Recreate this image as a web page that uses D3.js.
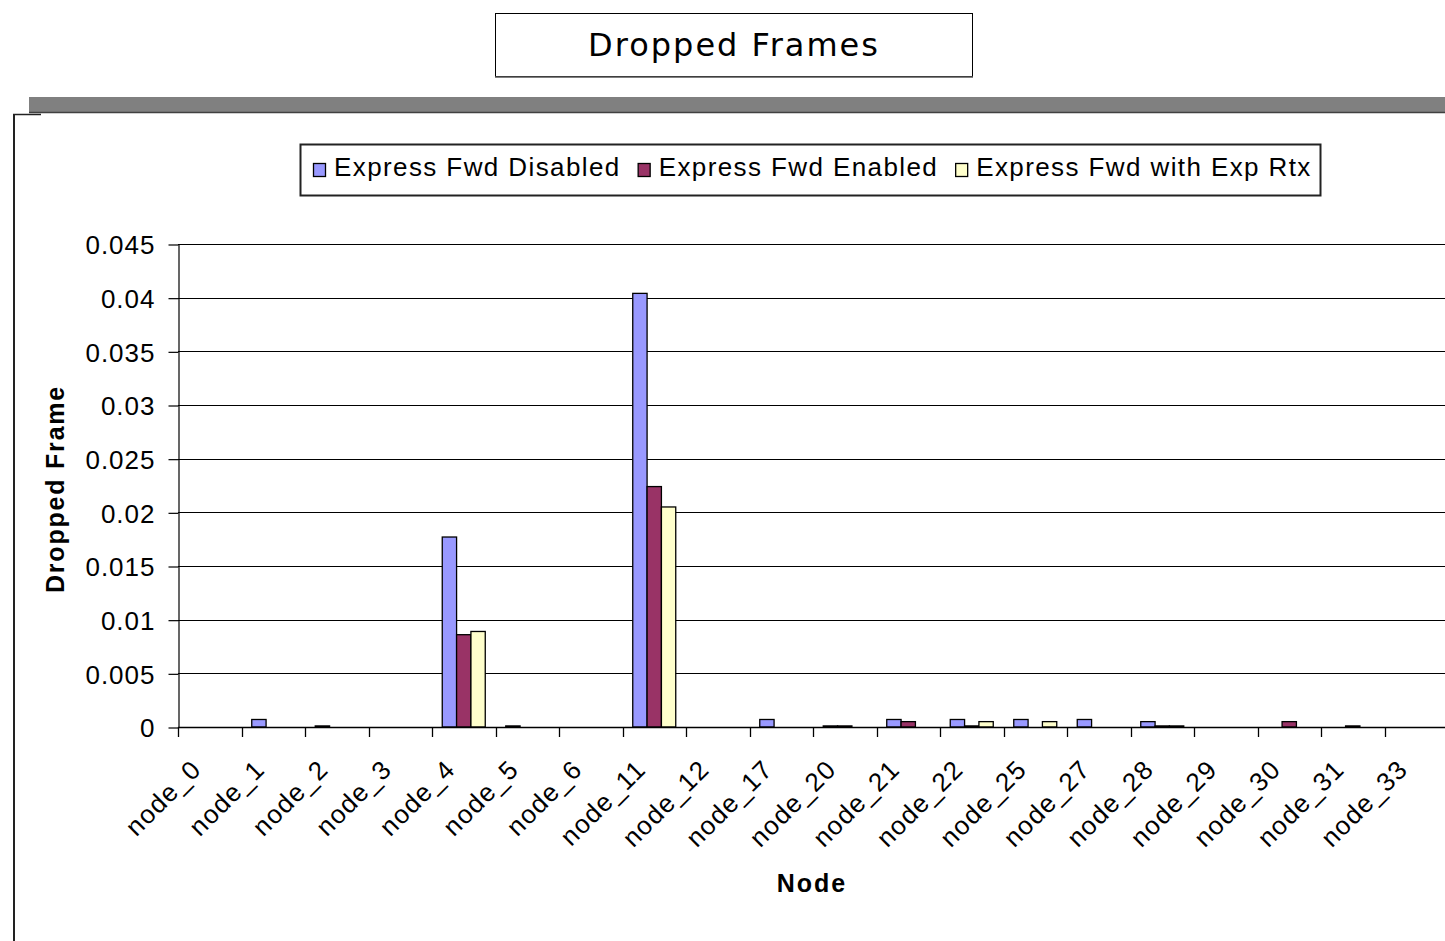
<!DOCTYPE html>
<html>
<head>
<meta charset="utf-8">
<script src="https://cdn.jsdelivr.net/npm/d3@7/dist/d3.min.js"></script>
<style>
  html, body { margin: 0; padding: 0; background: #ffffff; }
  svg { display: block; }
</style>
</head>
<body>
<svg id="chart" width="1445" height="941"></svg>
<script>
// ---- data ----
const categories = ["node_0","node_1","node_2","node_3","node_4","node_5","node_6","node_11","node_12","node_17","node_20","node_21","node_22","node_25","node_27","node_28","node_29","node_30","node_31","node_33"];
const seriesNames = ["Express Fwd Disabled","Express Fwd Enabled","Express Fwd with Exp Rtx"];
const fwdDisabled = [0, 0.0007, 0.0001, 0, 0.0177, 0.0001, 0, 0.0404, 0, 0.0007, 0.0001, 0.0007, 0.0007, 0.0007, 0.0007, 0.0005, 0, 0, 0, 0];
const fwdEnabled  = [0, 0, 0, 0, 0.0086, 0, 0, 0.0224, 0, 0, 0.0001, 0.0005, 0.0001, 0, 0, 0.0001, 0, 0.0005, 0.0001, 0];
const fwdExpRtx   = [0, 0, 0, 0, 0.0089, 0, 0, 0.0205, 0, 0, 0, 0, 0.0005, 0.0005, 0, 0.0001, 0, 0, 0, 0];
const yTicks = [0, 0.005, 0.01, 0.015, 0.02, 0.025, 0.03, 0.035, 0.04, 0.045];
const yTickLabels = ["0","0.005","0.01","0.015","0.02","0.025","0.03","0.035","0.04","0.045"];
const colors = ["#9999FF", "#993366", "#FFFFCC"];
const titleText = "Dropped Frames";
const yTitle = "Dropped Frame";
const xTitle = "Node";

const seriesValues = [fwdDisabled, fwdEnabled, fwdExpRtx];

const svg = d3.select("#chart");
const FONT = "'Liberation Sans', Arial, sans-serif";

// ---- frame decorations ----
svg.append("rect").attr("x", 29).attr("y", 97).attr("width", 1416).attr("height", 15).attr("fill", "#808080");
svg.append("line").attr("x1", 29).attr("x2", 1445).attr("y1", 112.5).attr("y2", 112.5).attr("stroke", "#404040").attr("stroke-width", 1.5);
svg.append("line").attr("x1", 14).attr("x2", 14).attr("y1", 114).attr("y2", 941).attr("stroke", "#222").attr("stroke-width", 2);
svg.append("line").attr("x1", 13).attr("x2", 41).attr("y1", 114.5).attr("y2", 114.5).attr("stroke", "#222").attr("stroke-width", 1.5);

// ---- title box ----
svg.append("rect").attr("x", 495.5).attr("y", 13.5).attr("width", 477).attr("height", 63)
  .attr("fill", "#fff").attr("stroke", "#000").attr("stroke-width", 1);
svg.append("line").attr("x1", 495).attr("x2", 973).attr("y1", 77).attr("y2", 77).attr("stroke", "#555").attr("stroke-width", 1.5);
svg.append("text").attr("x", 734).attr("y", 56).attr("text-anchor", "middle")
  .attr("font-family", "'DejaVu Sans', Verdana, sans-serif").attr("font-size", 32)
  .attr("letter-spacing", 2).attr("fill", "#000").text(titleText);

// ---- scales ----
const x = d3.scaleBand().domain(categories).range([178, 1448]).paddingInner(0).paddingOuter(0);
const xs = d3.scaleBand().domain(seriesNames).range([10.25, x.bandwidth() - 10.25]).paddingInner(0);
const y = d3.scaleLinear().domain([0, 0.045]).range([727, 244]);

// ---- gridlines ----
svg.append("g").selectAll("line").data(yTicks.filter(d => d > 0)).join("line")
  .attr("x1", 178).attr("x2", 1448)
  .attr("y1", d => Math.round(y(d)) + 0.5).attr("y2", d => Math.round(y(d)) + 0.5)
  .attr("stroke", "#000").attr("stroke-width", 1.2);

// ---- y axis ----
const yAxis = d3.axisLeft(y).tickValues(yTicks).tickFormat((d, i) => yTickLabels[i])
  .tickSize(10).tickSizeOuter(0).tickPadding(13);
const gy = svg.append("g").attr("transform", "translate(178.5,0.5)").call(yAxis);
gy.selectAll("text").attr("font-family", FONT).attr("font-size", 26).attr("letter-spacing", 1).attr("fill", "#000").attr("dy", "0.36em");
gy.selectAll("line").attr("stroke", "#000").attr("stroke-width", 1.2);
gy.select(".domain").attr("stroke", "#000").attr("stroke-width", 1.2);

// ---- bars ----
const barData = [];
categories.forEach((c, i) => {
  seriesNames.forEach((s, k) => {
    barData.push({ c, s, k, v: seriesValues[k][i] });
  });
});
svg.append("g").selectAll("rect").data(barData.filter(d => d.v > 0)).join("rect")
  .attr("x", d => x(d.c) + xs(d.s))
  .attr("y", d => y(d.v))
  .attr("width", xs.bandwidth())
  .attr("height", d => y(0) - y(d.v))
  .attr("fill", d => colors[d.k])
  .attr("stroke", "#000").attr("stroke-width", 1.3);

// ---- x axis ----
svg.append("line").attr("x1", 178).attr("x2", 1448).attr("y1", 727.5).attr("y2", 727.5).attr("stroke", "#000").attr("stroke-width", 1.3);
const bounds = categories.map(c => x(c)).concat([x.range()[1]]);
svg.append("g").selectAll("line").data(bounds).join("line")
  .attr("x1", d => Math.round(d) + 0.5).attr("x2", d => Math.round(d) + 0.5)
  .attr("y1", 727).attr("y2", 737)
  .attr("stroke", "#000").attr("stroke-width", 1.3);

svg.append("g").selectAll("text").data(categories).join("text")
  .attr("transform", c => `translate(${x(c) + x.bandwidth() / 2 - 7},771) rotate(-45)`)
  .attr("text-anchor", "end")
  .attr("font-family", FONT).attr("font-size", 26).attr("letter-spacing", 1.2).attr("fill", "#000")
  .text(c => c);

// ---- axis titles ----
svg.append("text").attr("transform", "translate(64,489) rotate(-90)").attr("text-anchor", "middle")
  .attr("font-family", FONT).attr("font-weight", "bold").attr("font-size", 25).attr("letter-spacing", 1.8)
  .attr("fill", "#000").text(yTitle);
svg.append("text").attr("x", 812).attr("y", 892).attr("text-anchor", "middle")
  .attr("font-family", FONT).attr("font-weight", "bold").attr("font-size", 25).attr("letter-spacing", 2)
  .attr("fill", "#000").text(xTitle);

// ---- legend ----
const lg = svg.append("g");
lg.append("rect").attr("x", 300.5).attr("y", 144.5).attr("width", 1020).attr("height", 51)
  .attr("fill", "#fff").attr("stroke", "#222").attr("stroke-width", 2);
let lx = 313;
seriesNames.forEach((s, k) => {
  lg.append("rect").attr("x", lx + 0.5).attr("y", 163.5).attr("width", 12).attr("height", 13)
    .attr("fill", colors[k]).attr("stroke", "#000").attr("stroke-width", 1.3);
  const t = lg.append("text").attr("x", lx + 21).attr("y", 176)
    .attr("font-family", FONT).attr("font-size", 26).attr("letter-spacing", 1.4).attr("fill", "#000").text(s);
  const w = t.node().getComputedTextLength();
  lx = lx + 21 + w + 17;
});
</script>
</body>
</html>
